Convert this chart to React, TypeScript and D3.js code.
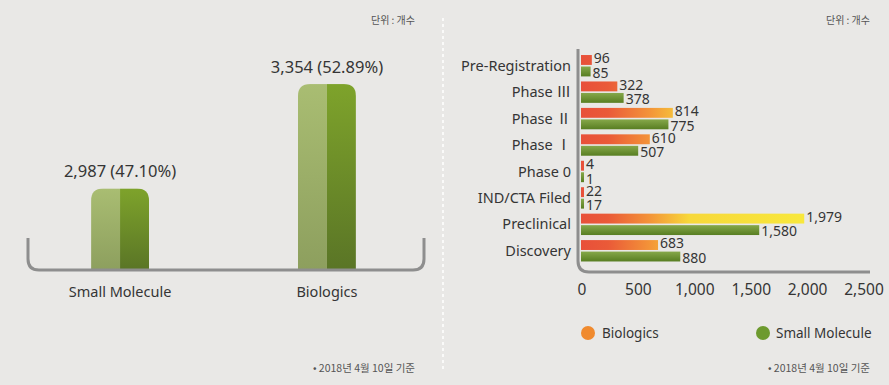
import React from "react";
import * as d3 from "d3";

const totalCategories = ["Small Molecule", "Biologics"];
const totalValues = [2987, 3354];
const totalLabels = ["2,987 (47.10%)", "3,354 (52.89%)"];

const phases = ["Pre-Registration", "Phase Ⅲ", "Phase Ⅱ", "Phase Ⅰ", "Phase 0", "IND/CTA Filed", "Preclinical", "Discovery"];
const biologics = [96, 322, 814, 610, 4, 22, 1979, 683];
const smallMolecule = [85, 378, 775, 507, 1, 17, 1580, 880];
const xTicks = [0, 500, 1000, 1500, 2000, 2500];
const seriesNames = ["Biologics", "Small Molecule"];

const W = 889, H = 385;
const FONT = "'Noto Sans', 'Noto Sans CJK KR', sans-serif";
const KFONT = "'Noto Sans CJK KR', sans-serif";
const TXT = "#353535";

export default function App() {
  // left chart
  const lx = d3.scaleBand().domain(totalCategories).range([29, 418]).paddingInner(0.72).paddingOuter(0.3);
  const ly = d3.scaleLinear().domain([2700, 3400]).range([270, 71]);
  const bw = lx.bandwidth();
  const r = 12;
  const base = ly(2700);

  // right chart
  const x = d3.scaleLinear().domain([0, 2500]).range([581, 863]);
  const y = d3.scaleBand().domain(phases).range([52.5, 264]);
  const sub = d3.scaleBand().domain(seriesNames).range([0, y.bandwidth()]).paddingInner(0.14).paddingOuter(0.22);
  const fmt = d3.format(",");

  const barPath = (x0: number, top: number, w: number, bottom: number) =>
    `M${x0},${bottom}V${top + r}Q${x0},${top} ${x0 + r},${top}H${x0 + w - r}Q${x0 + w},${top} ${x0 + w},${top + r}V${bottom}Z`;

  return (
    <svg width={W} height={H} style={{ position: "absolute", left: 0, top: 0, background: "#e9e8e6" }}>
      <defs>
        <linearGradient id="lightG" x1="0" y1="0" x2="0" y2="1">
          <stop offset="0%" stopColor="#a9bd72" />
          <stop offset="100%" stopColor="#8d9f5e" />
        </linearGradient>
        <linearGradient id="darkG" x1="0" y1="0" x2="0" y2="1">
          <stop offset="0%" stopColor="#7ea32b" />
          <stop offset="100%" stopColor="#5a7526" />
        </linearGradient>
        <linearGradient id="bioG" gradientUnits="userSpaceOnUse" x1={x(0)} y1="0" x2={x(2000)} y2="0">
          <stop offset="0%" stopColor="#e8503a" />
          <stop offset="12%" stopColor="#ea5a38" />
          <stop offset="30%" stopColor="#f39238" />
          <stop offset="48%" stopColor="#f7d83a" />
          <stop offset="100%" stopColor="#f8e83c" />
        </linearGradient>
        <linearGradient id="smG" x1="0" y1="0" x2="0" y2="1">
          <stop offset="0%" stopColor="#86a84a" />
          <stop offset="100%" stopColor="#587e22" />
        </linearGradient>
      </defs>

      {/* divider */}
      <line x1={443} x2={443} y1={18} y2={372} stroke="#ffffff" strokeWidth={1.5} strokeDasharray="3,3" />

      {/* left chart */}
      <text x={415} y={24} textAnchor="end" fontFamily={KFONT} fontSize={10} fill="#555">단위 : 개수</text>
      {totalCategories.map((c, i) => {
        const x0 = lx(c)!;
        const top = ly(totalValues[i]);
        return (
          <g key={c}>
            <clipPath id={`clip${i}`}>
              <path d={barPath(x0, top, bw, base)} />
            </clipPath>
            <g clipPath={`url(#clip${i})`}>
              <rect x={x0} y={top} width={bw / 2} height={base - top} fill="url(#lightG)" />
              <rect x={x0 + bw / 2} y={top} width={bw / 2} height={base - top} fill="url(#darkG)" />
            </g>
            <text x={x0 + bw / 2} y={top - 11} textAnchor="middle" fontFamily={FONT} fontSize={16.5} fill={TXT}>{totalLabels[i]}</text>
            <text x={x0 + bw / 2} y={297} textAnchor="middle" fontFamily={FONT} fontSize={14.5} fill={TXT}>{c}</text>
          </g>
        );
      })}
      <path d={`M28,238V259Q28,270 39,270H413Q424,270 424,259V238`} fill="none" stroke="#8e8e8e" strokeWidth={3} />
      <text x={415} y={372} textAnchor="end" fontFamily={KFONT} fontSize={10.5} fill="#555">• 2018년 4월 10일 기준</text>

      {/* right chart */}
      <text x={870} y={24} textAnchor="end" fontFamily={KFONT} fontSize={10} fill="#555">단위 : 개수</text>
      {phases.map((p, i) => {
        const gy = y(p)!;
        const by = gy + sub("Biologics")!;
        const sy = gy + sub("Small Molecule")!;
        const h = sub.bandwidth();
        return (
          <g key={p}>
            <text x={571} y={gy + y.bandwidth() / 2} dy="0.35em" textAnchor="end" fontFamily={FONT} fontSize={14.5} fill={TXT}>{p}</text>
            <rect x={x(0)} y={by} width={Math.max(x(biologics[i]) - x(0), 3)} height={h} fill="url(#bioG)" />
            <rect x={x(0)} y={sy} width={Math.max(x(smallMolecule[i]) - x(0), 3)} height={h} fill="url(#smG)" />
            <text x={Math.max(x(biologics[i]), x(0) + 3) + 2} y={by + h / 2 - 1.5} dy="0.35em" fontFamily={FONT} fontSize={14} fill={TXT}>{fmt(biologics[i])}</text>
            <text x={Math.max(x(smallMolecule[i]), x(0) + 3) + 2} y={sy + h / 2 + 1.5} dy="0.35em" fontFamily={FONT} fontSize={14} fill={TXT}>{fmt(smallMolecule[i])}</text>
          </g>
        );
      })}
      <path d={`M578,49V261Q578,272 589,272H870`} fill="none" stroke="#8e8e8e" strokeWidth={3} />
      {xTicks.map((t) => (
        <text key={t} x={x(t) + 1} y={290} dy="0.35em" textAnchor="middle" fontFamily={FONT} fontSize={15.5} fill={TXT}>{fmt(t)}</text>
      ))}

      {/* legend */}
      <circle cx={588} cy={333} r={7} fill="#f08a2e" />
      <text x={602} y={333} dy="0.35em" fontFamily={FONT} fontSize={13.5} fill={TXT}>{seriesNames[0]}</text>
      <circle cx={763} cy={333} r={7} fill="#6d9a2e" />
      <text x={776} y={333} dy="0.35em" fontFamily={FONT} fontSize={13.5} fill={TXT}>{seriesNames[1]}</text>
      <text x={870} y={372} textAnchor="end" fontFamily={KFONT} fontSize={10.5} fill="#555">• 2018년 4월 10일 기준</text>
    </svg>
  );
}
